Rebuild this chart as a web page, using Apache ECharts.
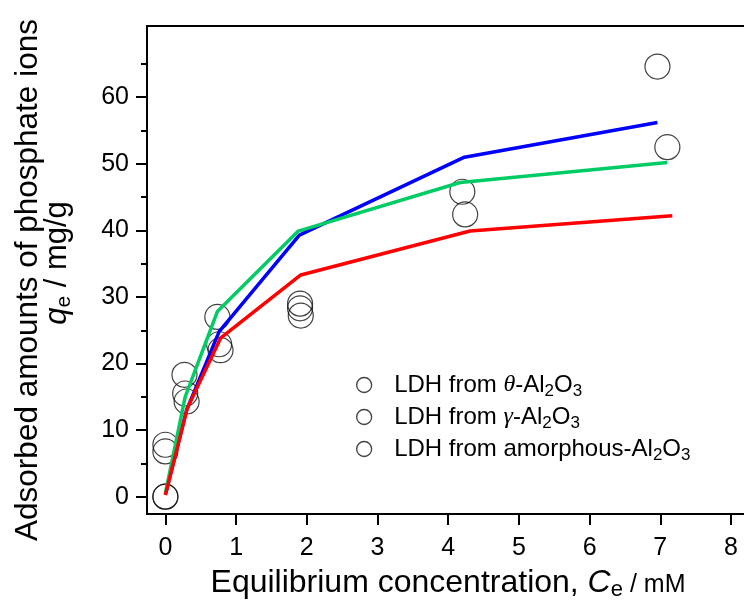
<!DOCTYPE html>
<html>
<head>
<meta charset="utf-8">
<script src="https://cdn.jsdelivr.net/npm/echarts@6/dist/echarts.min.js"></script>
<style>
html,body{margin:0;padding:0;background:#fff;}
#chart{width:744px;height:600px;}
</style>
</head>
<body>
<div id="chart"></div>
<script>
// ---- data ----
const xTicks = [0, 1, 2, 3, 4, 5, 6, 7, 8];
const yTicks = [0, 10, 20, 30, 40, 50, 60];
const yMinorTicks = [5, 15, 25, 35, 45, 55, 65];

const seriesKeys = ['theta', 'gamma', 'amorph'];
const legendLabels = {
  theta: 'LDH from {g|θ}-Al{s|2}O{s|3}',
  gamma: 'LDH from {g|γ}-Al{s|2}O{s|3}',
  amorph: 'LDH from amorphous-Al{s|2}O{s|3}'
};

// measured points (Ce, qe)
const thetaPts = [[0, 0], [0.27, 18.3], [0.76, 22.9], [1.905, 29.0], [4.24, 42.4], [6.96, 64.6]];
const gammaPts = [[0, 7.8], [0.28, 15.5], [0.735, 27.0], [1.905, 28.3], [4.2, 45.8], [7.1, 52.5]];
const amorphPts = [[0, 0], [0, 6.8], [0.30, 14.3], [0.78, 22.0], [1.915, 27.2]];

// fitted curves
const blueFit = [[0, 0.3], [0.30, 13.0], [0.76, 24.8], [1.895, 39.3], [4.23, 51.0], [6.96, 56.2]];
const greenFit = [[0, 0.5], [0.28, 15.0], [0.735, 27.8], [1.88, 39.9], [4.17, 47.2], [7.1, 50.2]];
const redFit = [[0, 0.25], [0.31, 13.3], [0.78, 23.8], [1.915, 33.3], [4.31, 39.9], [7.17, 42.2]];

const F = '"Liberation Sans", Arial, sans-serif';
const SERIF = '"Liberation Serif", "Times New Roman", serif';

const chart = echarts.init(document.getElementById('chart'), null, {renderer: 'canvas'});

const scatterStyle = {color: 'rgba(0,0,0,0)', borderColor: '#111', borderWidth: 1.2};
function scatter(name, data) {
  return {name, type: 'scatter', data, symbol: 'circle', symbolSize: 25,
    itemStyle: scatterStyle, z: 2, silent: true};
}
function fit(data, color, z) {
  return {type: 'line', data, showSymbol: false, symbol: 'none',
    lineStyle: {color, width: 3.5}, z, silent: true};
}

const axisLine = {show: true, onZero: false, lineStyle: {color: '#000', width: 2}};

chart.setOption({
  animation: false,
  backgroundColor: '#fff',
  grid: {left: 147, top: 26, right: 0, bottom: 86, containLabel: false},
  xAxis: [
    {type: 'value', min: -0.26, max: 8.184, position: 'bottom',
      axisLine, splitLine: {show: false},
      axisTick: {show: true, customValues: xTicks, length: 11, lineStyle: {color: '#000', width: 2}},
      axisLabel: {customValues: xTicks, fontSize: 25, fontFamily: F, color: '#000', margin: 22}},
    {type: 'value', min: -0.26, max: 8.184, position: 'top',
      axisLine, splitLine: {show: false}, axisTick: {show: false}, axisLabel: {show: false}}
  ],
  yAxis: [
    {type: 'value', min: -2.6, max: 70.7, position: 'left',
      axisLine, splitLine: {show: false},
      axisTick: {show: true, customValues: yTicks, length: 11, lineStyle: {color: '#000', width: 2}},
      axisLabel: {customValues: yTicks, fontSize: 25, fontFamily: F, color: '#000', margin: 18}},
    {type: 'value', min: -2.6, max: 70.7, position: 'left',
      axisLine: {show: false, onZero: false}, splitLine: {show: false},
      axisTick: {show: true, customValues: yMinorTicks, length: 6, lineStyle: {color: '#000', width: 2}},
      axisLabel: {show: false}}
  ],
  legend: {
    orient: 'vertical', left: 351, top: 368, itemGap: 5.5,
    itemWidth: 50, itemHeight: 15,
    data: seriesKeys,
    formatter: name => legendLabels[name],
    itemStyle: {color: 'rgba(0,0,0,0)', borderColor: '#111', borderWidth: 1.3},
    textStyle: {fontSize: 24, fontFamily: F, color: '#000', padding: [0, 0, 0, 0],
      rich: {
        g: {fontSize: 24, fontFamily: SERIF, fontStyle: 'italic', color: '#000'},
        s: {fontSize: 17, fontFamily: F, color: '#000', padding: [12, 0, 0, 0]}
      }},
    selectedMode: false
  },
  graphic: [
    {type: 'text', x: 28, y: 280, rotation: Math.PI / 2, silent: true,
      style: {text: 'Adsorbed amounts of phosphate ions', fontSize: 31.5, fontFamily: F,
        fill: '#000', align: 'center', verticalAlign: 'middle'}},
    {type: 'text', x: 57, y: 263, rotation: Math.PI / 2, silent: true,
      style: {text: '{q|q}{s|e}{n| / mg/g}', align: 'center', verticalAlign: 'middle',
        rich: {
          q: {fontSize: 31, fontFamily: F, fontStyle: 'italic', fill: '#000', color: '#000'},
          s: {fontSize: 21, fontFamily: F, fill: '#000', color: '#000', padding: [14, 0, 0, 0]},
          n: {fontSize: 31, fontFamily: F, fill: '#000', color: '#000'}
        }}},
    {type: 'text', x: 448, y: 583, silent: true,
      style: {text: '{n|Equilibrium concentration, }{c|C}{s|e}{u| / mM}', align: 'center', verticalAlign: 'middle',
        rich: {
          n: {fontSize: 32, fontFamily: F, fill: '#000', color: '#000'},
          c: {fontSize: 32, fontFamily: F, fontStyle: 'italic', fill: '#000', color: '#000'},
          s: {fontSize: 22, fontFamily: F, fill: '#000', color: '#000', padding: [14, 0, 0, 0]},
          u: {fontSize: 25, fontFamily: F, fill: '#000', color: '#000', padding: [4, 0, 0, 0]}
        }}}
  ],
  series: [
    scatter('theta', thetaPts),
    scatter('gamma', gammaPts),
    scatter('amorph', amorphPts),
    fit(blueFit, '#0000FF', 3),
    fit(greenFit, '#00CC66', 4),
    fit(redFit, '#FF0000', 5)
  ]
});
</script>
</body>
</html>
